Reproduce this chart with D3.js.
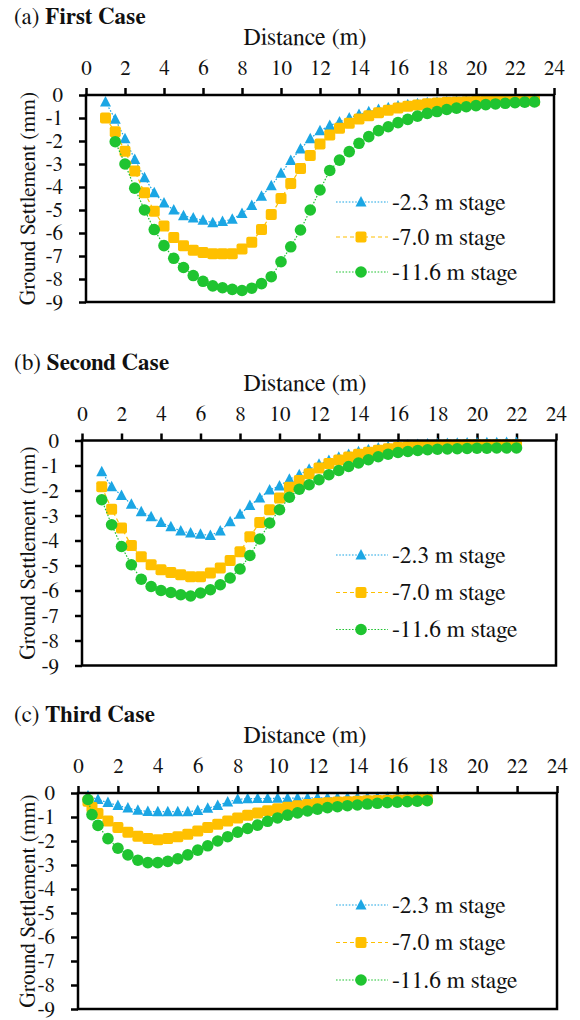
<!DOCTYPE html>
<html>
<head>
<meta charset="utf-8">
<script src="https://cdn.jsdelivr.net/npm/d3@7"></script>
<style>
  body { margin: 0; background: #fff; }
</style>
</head>
<body>
<script>
// ---- data ----
var stageNames = ['-2.3 m stage', '-7.0 m stage', '-11.6 m stage'];
var xTicks = [0, 2, 4, 6, 8, 10, 12, 14, 16, 18, 20, 22, 24];
var yTicks = [0, -1, -2, -3, -4, -5, -6, -7, -8, -9];

// (a) first case
var distA = [1.0, 1.5, 2.0, 2.5, 3.0, 3.5, 4.0, 4.5, 5.0, 5.5, 6.0, 6.5, 7.0, 7.5, 8.0, 8.5, 9.0, 9.5, 10.0, 10.5,
  11.0, 11.5, 12.0, 12.5, 13.0, 13.5, 14.0, 14.5, 15.0, 15.5, 16.0, 16.5, 17.0, 17.5, 18.0, 18.5, 19.0, 19.5, 20.0,
  20.5, 21.0, 21.5, 22.0, 22.5, 23.0];
var stage1A = [-0.3, -1.05, -1.9, -2.8, -3.6, -4.25, -4.7, -5.0, -5.25, -5.35, -5.45, -5.55, -5.5, -5.4, -5.15, -4.8,
  -4.4, -3.95, -3.4, -2.85, -2.35, -1.9, -1.55, -1.33, -1.17, -1.0, -0.85, -0.73, -0.63, -0.55, -0.48, -0.42, -0.38,
  -0.34, -0.31, -0.29, -0.27, -0.26, -0.25, -0.24, -0.23, -0.22, -0.21, -0.21, -0.2];
var stage2A = [-1.0, -1.6, -2.45, -3.3, -4.25, -5.05, -5.7, -6.2, -6.55, -6.75, -6.85, -6.9, -6.9, -6.9, -6.7, -6.4,
  -5.85, -5.2, -4.5, -3.85, -3.2, -2.63, -2.13, -1.74, -1.45, -1.23, -1.04, -0.9, -0.77, -0.66, -0.57, -0.49, -0.43,
  -0.38, -0.35, -0.32, -0.3, -0.29, -0.28, -0.27, -0.26, -0.26, -0.25, -0.25, -0.25];
var stage3A = [null, -2.03, -3.0, -4.05, -5.0, -5.85, -6.55, -7.1, -7.5, -7.85, -8.1, -8.3, -8.38, -8.45, -8.5, -8.4,
  -8.2, -7.9, -7.25, -6.6, -5.87, -5.0, -4.13, -3.28, -2.83, -2.46, -2.1, -1.81, -1.55, -1.38, -1.2, -1.06, -0.92,
  -0.8, -0.72, -0.63, -0.57, -0.51, -0.46, -0.42, -0.39, -0.36, -0.33, -0.31, -0.3];

// (b) second case
var distB = [1.0, 1.5, 2.0, 2.5, 3.0, 3.5, 4.0, 4.5, 5.0, 5.5, 6.0, 6.5, 7.0, 7.5, 8.0, 8.5, 9.0, 9.5, 10.0, 10.5,
  11.0, 11.5, 12.0, 12.5, 13.0, 13.5, 14.0, 14.5, 15.0, 15.5, 16.0, 16.5, 17.0, 17.5, 18.0, 18.5, 19.0, 19.5, 20.0,
  20.5, 21.0, 21.5, 22.0];
var stage1B = [-1.25, -1.85, -2.2, -2.55, -2.85, -3.05, -3.28, -3.45, -3.62, -3.7, -3.75, -3.8, -3.62, -3.25, -2.95,
  -2.6, -2.3, -1.98, -1.82, -1.55, -1.37, -1.15, -0.95, -0.8, -0.67, -0.56, -0.45, -0.37, -0.3, -0.25, -0.21, -0.18,
  -0.16, -0.14, -0.13, -0.12, -0.11, -0.1, -0.1, -0.09, -0.09, -0.08, -0.08];
var stage2B = [-1.85, -2.75, -3.5, -4.2, -4.65, -4.97, -5.17, -5.28, -5.37, -5.45, -5.45, -5.3, -5.1, -4.8, -4.45,
  -3.85, -3.28, -2.77, -2.3, -1.87, -1.6, -1.33, -1.1, -0.92, -0.78, -0.66, -0.55, -0.47, -0.39, -0.33, -0.28, -0.25,
  -0.22, -0.2, -0.19, -0.18, -0.18, -0.17, -0.17, -0.17, -0.17, -0.17, -0.17];
var stage3B = [-2.37, -3.37, -4.24, -4.97, -5.55, -5.84, -6.0, -6.08, -6.17, -6.22, -6.1, -5.97, -5.77, -5.5, -5.14,
  -4.6, -3.94, -3.3, -2.77, -2.27, -1.95, -1.77, -1.57, -1.37, -1.2, -1.04, -0.9, -0.77, -0.65, -0.55, -0.48, -0.44,
  -0.4, -0.37, -0.35, -0.34, -0.33, -0.32, -0.31, -0.31, -0.3, -0.3, -0.3];

// (c) third case
var distC = [0.5, 0.7, 1.0, 1.5, 2.0, 2.5, 3.0, 3.5, 4.0, 4.5, 5.0, 5.5, 6.0, 6.5, 7.0, 7.5, 8.0, 8.5, 9.0, 9.5,
  10.0, 10.5, 11.0, 11.5, 12.0, 12.5, 13.0, 13.5, 14.0, 14.5, 15.0, 15.5, 16.0, 16.5, 17.0, 17.5];
var stage1C = [-0.12, null, -0.27, -0.4, -0.52, -0.63, -0.72, -0.77, -0.78, -0.78, -0.78, -0.78, -0.73, -0.64, -0.52,
  -0.38, -0.26, -0.24, -0.23, -0.23, -0.22, -0.22, -0.21, -0.21, -0.2, -0.2, -0.2, -0.19, -0.19, -0.19, -0.19, -0.18,
  -0.18, -0.18, -0.18, -0.18];
var stage2C = [-0.34, -0.6, -0.85, -1.17, -1.44, -1.64, -1.8, -1.9, -1.95, -1.9, -1.82, -1.72, -1.58, -1.44, -1.3,
  -1.17, -1.04, -0.93, -0.83, -0.74, -0.66, -0.59, -0.53, -0.48, -0.44, -0.41, -0.38, -0.36, -0.34, -0.32, -0.31,
  -0.3, -0.29, -0.28, -0.27, -0.26];
var stage3C = [-0.27, -0.9, -1.35, -1.9, -2.3, -2.58, -2.8, -2.9, -2.9, -2.85, -2.74, -2.58, -2.38, -2.2, -2.0,
  -1.82, -1.63, -1.48, -1.34, -1.18, -1.04, -0.92, -0.83, -0.75, -0.67, -0.61, -0.57, -0.53, -0.5, -0.46, -0.43,
  -0.4, -0.38, -0.36, -0.34, -0.32];

// ---- styles ----
var FONT = "FreeSerif, Times, serif";
var colors = ['#1BA6E4', '#FFC000', '#1FC430'];
var dashes = ['1.6,1.6', '4,3', '1.6,1.6'];
var shapes = ['triangle', 'square', 'circle'];

var panels = [
  { tag: '(a) ', name: 'First Case', x: distA, series: [stage1A, stage2A, stage3A],
    left: 86, right: 554, top: 95, bottom: 302, legendY: [202, 237, 272] },
  { tag: '(b) ', name: 'Second Case', x: distB, series: [stage1B, stage2B, stage3B],
    left: 82, right: 556, top: 440.5, bottom: 665.5, legendY: [555, 592.5, 629.5] },
  { tag: '(c) ', name: 'Third Case', x: distC, series: [stage1C, stage2C, stage3C],
    left: 78, right: 557, top: 793, bottom: 1009, legendY: [905, 942.5, 980] }
];

var svg = d3.select('body').append('svg')
  .attr('width', 580)
  .attr('height', 1020)
  .style('display', 'block')
  .style('font-family', FONT);

function drawMarker(g, shape, color, cx, cy) {
  if (shape == 'triangle') {
    g.append('path')
      .attr('d', 'M' + cx + ',' + (cy - 6) + ' L' + (cx + 5.5) + ',' + (cy + 4.5) + ' L' + (cx - 5.5) + ',' + (cy + 4.5) + ' Z')
      .attr('fill', color);
  } else if (shape == 'square') {
    g.append('rect')
      .attr('x', cx - 5.5).attr('y', cy - 5.5)
      .attr('width', 11).attr('height', 11)
      .attr('rx', 2)
      .attr('fill', color);
  } else {
    g.append('circle')
      .attr('cx', cx).attr('cy', cy).attr('r', 5.8)
      .attr('fill', color);
  }
}

// small helper so every text uses the same face
function label(sel) {
  return sel.style('font-family', FONT).attr('fill', '#111');
}

panels.forEach(function (p) {
  var xScale = d3.scaleLinear().domain([0, 24]).range([p.left, p.right]);
  var yScale = d3.scaleLinear().domain([0, -9]).range([p.top, p.bottom]);
  var g = svg.append('g');

  // title
  var title = label(g.append('text'))
    .attr('x', 14)
    .attr('y', p.top - 71)
    .attr('font-size', '23px');
  title.append('tspan').text(p.tag);
  title.append('tspan').attr('font-weight', 'bold').text(p.name);

  label(g.append('text'))
    .attr('x', 305)
    .attr('y', p.top - 50)
    .attr('text-anchor', 'middle')
    .attr('font-size', '24px')
    .text('Distance (m)');

  label(g.append('text'))
    .attr('transform', 'translate(35,' + ((p.top + p.bottom) / 2) + ') rotate(-90)')
    .attr('text-anchor', 'middle')
    .attr('font-size', '21.5px')
    .text('Ground Settlement (mm)');

  // axes
  var xAxis = g.append('g')
    .attr('transform', 'translate(0,' + p.top + ')')
    .call(d3.axisTop(xScale).tickValues(xTicks).tickSize(7).tickSizeOuter(0).tickPadding(13)
      .tickFormat(function (d) { return String(d); }));
  var yAxis = g.append('g')
    .attr('transform', 'translate(' + p.left + ',0)')
    .call(d3.axisLeft(yScale).tickValues(yTicks).tickSize(7).tickSizeOuter(0).tickPadding(16)
      .tickFormat(function (d) { return String(d); }));
  [xAxis, yAxis].forEach(function (a) {
    a.attr('font-family', null);
    a.select('.domain').remove();
    a.selectAll('.tick line').attr('stroke', '#000').attr('stroke-width', 2.5);
    label(a.selectAll('.tick text')).attr('font-size', '21px');
  });

  // series
  p.series.forEach(function (vals, si) {
    var pts = p.x.map(function (d, i) { return { x: d, y: vals[i] }; })
      .filter(function (d) { return d.y !== null; });
    var line = d3.line()
      .x(function (d) { return xScale(d.x); })
      .y(function (d) { return yScale(d.y); });
    g.append('path')
      .datum(pts)
      .attr('d', line)
      .attr('fill', 'none')
      .attr('stroke', colors[si])
      .attr('stroke-width', 1.2)
      .attr('stroke-dasharray', dashes[si]);
    var mg = g.append('g');
    pts.forEach(function (d) {
      drawMarker(mg, shapes[si], colors[si], xScale(d.x), yScale(d.y));
    });
  });

  // frame
  g.append('rect')
    .attr('x', p.left).attr('y', p.top)
    .attr('width', p.right - p.left).attr('height', p.bottom - p.top)
    .attr('fill', 'none')
    .attr('stroke', '#000')
    .attr('stroke-width', 2.5);

  // legend
  stageNames.forEach(function (name, si) {
    var ly = p.legendY[si];
    g.append('line')
      .attr('x1', 336).attr('x2', 388)
      .attr('y1', ly).attr('y2', ly)
      .attr('stroke', colors[si])
      .attr('stroke-width', 1.2)
      .attr('stroke-dasharray', dashes[si]);
    drawMarker(g, shapes[si], colors[si], 361, ly);
    label(g.append('text'))
      .attr('x', 392)
      .attr('y', ly + 7.5)
      .attr('font-size', '23.5px')
      .text(name);
  });
});
</script>
</body>
</html>
